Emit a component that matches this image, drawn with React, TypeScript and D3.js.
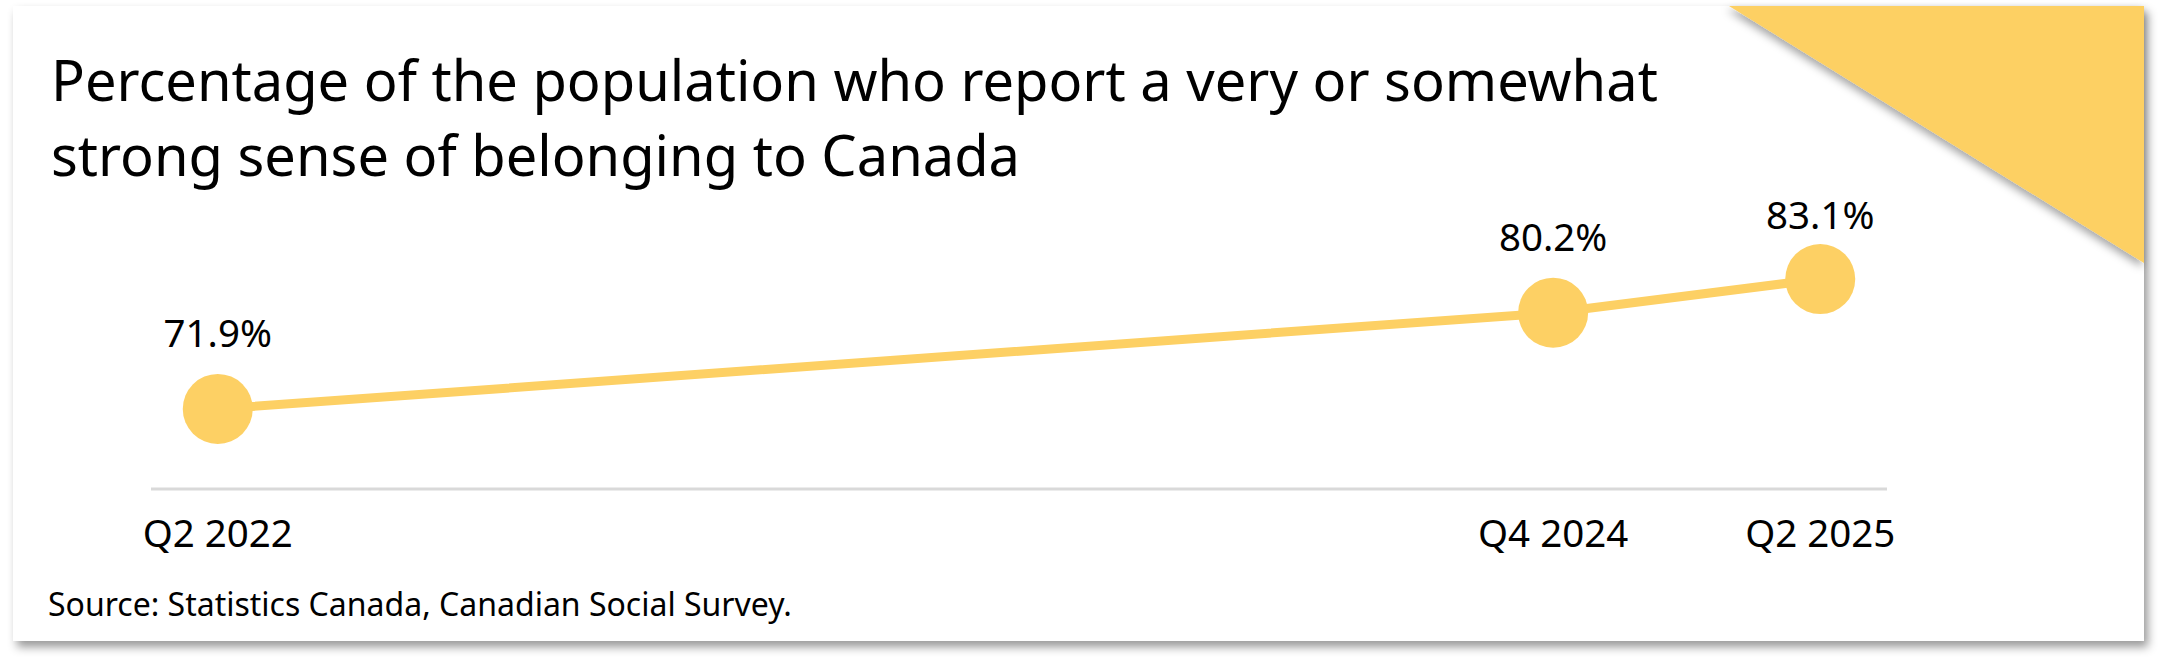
import * as d3 from "d3"

// Survey waves and the share reporting a strong sense of belonging (%)
const periods = ["Q2 2022", "Q4 2024", "Q2 2025"]
const belonging = [71.9, 80.2, 83.1]

const titleLines = [
  "Percentage of the population who report a very or somewhat",
  "strong sense of belonging to Canada",
]
const sourceNote = "Source: Statistics Canada, Canadian Social Survey."

const W = 2166
const H = 660
const YELLOW = "#fdd064"
const FONT = "'Noto Sans', 'Open Sans', sans-serif"

// "Q2 2022" -> running quarter number
function quarterNumber(label: string) {
  const [q, y] = label.split(" ")
  return +y * 4 + (+q.slice(1) - 1)
}

export default function App() {
  const card = { x: 13, y: 6, w: 2131, h: 635 }
  const plot = { left: 151, right: 1887, top: 257, bottom: 489 }

  const qs = periods.map(quarterNumber)
  const xScale = d3
    .scaleLinear()
    .domain([qs[0] - 0.5, qs[qs.length - 1] + 0.5])
    .range([plot.left, plot.right])

  const yScale = d3.scaleLinear().domain([65, 85]).range([plot.bottom, plot.top])

  const points = periods.map((p, i) => ({ x: xScale(qs[i]), y: yScale(belonging[i]), v: belonging[i], p }))

  const line = d3
    .line<{ x: number; y: number }>()
    .x((d) => d.x)
    .y((d) => d.y)

  // labels sit above the dots, but not higher than the title block allows
  const labelMinY = 229

  return (
    <div style={{ position: "absolute", left: 0, top: 0, width: W, height: H, background: "#fff" }}>
      <svg width={W} height={H} style={{ display: "block" }}>
        <defs>
          <filter id="cardShadow" x="-5%" y="-10%" width="110%" height="125%">
            <feDropShadow dx="4" dy="6" stdDeviation="5" floodColor="#000" floodOpacity="0.4" />
          </filter>
          <filter id="cornerShadow" x="-20%" y="-20%" width="140%" height="150%">
            <feDropShadow dx="-2" dy="4" stdDeviation="4" floodColor="#000" floodOpacity="0.35" />
          </filter>
        </defs>

        <rect x={card.x} y={card.y} width={card.w} height={card.h} fill="#fff" filter="url(#cardShadow)" />

        <polygon
          points={`1729,${card.y} ${card.x + card.w},${card.y} ${card.x + card.w},263`}
          fill={YELLOW}
          filter="url(#cornerShadow)"
        />

        {titleLines.map((t, i) => (
          <text key={t} x={51} y={101 + i * 75} fontFamily={FONT} fontSize={56} fill="#000">
            {t}
          </text>
        ))}

        <line
          x1={plot.left}
          x2={plot.right}
          y1={yScale(65)}
          y2={yScale(65)}
          stroke="#d9d9d9"
          strokeWidth={3}
        />

        <path d={line(points) ?? ""} fill="none" stroke={YELLOW} strokeWidth={9} />

        {points.map((d) => (
          <g key={d.p}>
            <circle cx={d.x} cy={d.y} r={35} fill={YELLOW} />
            <text
              x={d.x}
              y={Math.max(d.y - 62, labelMinY)}
              textAnchor="middle"
              fontFamily={FONT}
              fontSize={38.5}
              fill="#000"
            >
              {d.v.toFixed(1)}%
            </text>
            <text x={d.x} y={547} textAnchor="middle" fontFamily={FONT} fontSize={38.5} fill="#000">
              {d.p}
            </text>
          </g>
        ))}

        <text x={48} y={616} fontFamily={FONT} fontSize={32} fill="#000">
          {sourceNote}
        </text>
      </svg>
    </div>
  )
}
